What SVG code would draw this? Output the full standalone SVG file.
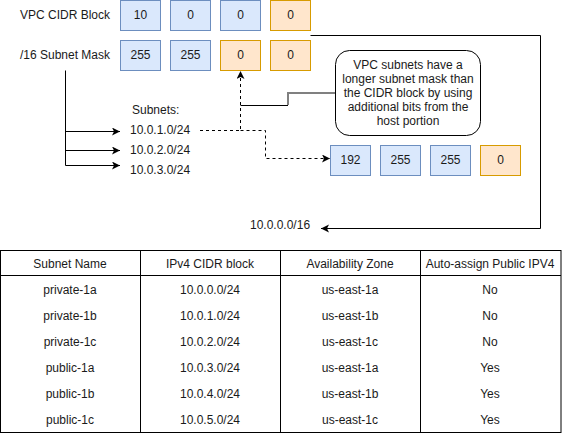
<svg xmlns="http://www.w3.org/2000/svg" width="562" height="436" viewBox="0 0 562 436">
<style>
text{font-family:"Liberation Sans",Arial,sans-serif;font-size:12px;fill:#1a1a1a}
.c{text-anchor:middle}
.r{text-anchor:end}
.blue{fill:#dae8fc;stroke:#6c8ebf;stroke-width:1}
.orange{fill:#ffe6cc;stroke:#d79b00;stroke-width:1}
.ln{fill:none;stroke:#000;stroke-width:1}
.dash{fill:none;stroke:#000;stroke-width:1;stroke-dasharray:3 3}
.gray{fill:none;stroke:#808080;stroke-width:2}
.tb{fill:none;stroke:#000;stroke-width:1}
</style>
<defs>
<marker id="arr" markerUnits="userSpaceOnUse" markerWidth="10" markerHeight="10" refX="8" refY="4" orient="auto">
<path d="M0,0 L8,4 L0,8 L2,4 z" fill="#000"/>
</marker>
</defs>
<rect width="562" height="436" fill="#fff"/>

<g id="label-vpc"><text class="r" x="110" y="19">VPC CIDR Block</text></g>
<g id="label-mask"><text class="r" x="110" y="59">/16 Subnet Mask</text></g>

<g id="cidr-1"><rect class="blue" x="120.5" y="0.5" width="40" height="30"/><text class="c" x="140.5" y="19">10</text></g>
<g id="cidr-2"><rect class="blue" x="170.5" y="0.5" width="40" height="30"/><text class="c" x="190.5" y="19">0</text></g>
<g id="cidr-3"><rect class="blue" x="220.5" y="0.5" width="40" height="30"/><text class="c" x="240.5" y="19">0</text></g>
<g id="cidr-4"><rect class="orange" x="270.5" y="0.5" width="40" height="30"/><text class="c" x="290.5" y="19">0</text></g>

<g id="mask-1"><rect class="blue" x="120.5" y="40.5" width="40" height="30"/><text class="c" x="140.5" y="59">255</text></g>
<g id="mask-2"><rect class="blue" x="170.5" y="40.5" width="40" height="30"/><text class="c" x="190.5" y="59">255</text></g>
<g id="mask-3"><rect class="orange" x="220.5" y="40.5" width="40" height="30"/><text class="c" x="240.5" y="59">0</text></g>
<g id="mask-4"><rect class="orange" x="270.5" y="40.5" width="40" height="30"/><text class="c" x="290.5" y="59">0</text></g>

<g id="subnets">
<text x="132" y="114">Subnets:</text>
<text x="130" y="134">10.0.1.0/24</text>
<text x="130" y="154">10.0.2.0/24</text>
<text x="130" y="174">10.0.3.0/24</text>
</g>

<g id="callout">
<rect x="335.5" y="50.5" width="145" height="85" rx="14" ry="14" fill="#fff" stroke="#000" stroke-width="1"/>
<text class="c" x="408" y="69">VPC subnets have a</text>
<text class="c" x="408" y="83">longer subnet mask than</text>
<text class="c" x="408" y="97">the CIDR block by using</text>
<text class="c" x="408" y="111">additional bits from the</text>
<text class="c" x="408" y="125">host portion</text>
</g>

<g id="sub-1"><rect class="blue" x="330.5" y="145.5" width="40" height="30"/><text class="c" x="350.5" y="164">192</text></g>
<g id="sub-2"><rect class="blue" x="380.5" y="145.5" width="40" height="30"/><text class="c" x="400.5" y="164">255</text></g>
<g id="sub-3"><rect class="blue" x="430.5" y="145.5" width="40" height="30"/><text class="c" x="450.5" y="164">255</text></g>
<g id="sub-4"><rect class="orange" x="480.5" y="145.5" width="40" height="30"/><text class="c" x="500.5" y="164">0</text></g>

<g id="label-net"><text x="250" y="229">10.0.0.0/16</text></g>

<g id="connectors">
<path class="ln" d="M65.5,70.5 V165.5"/>
<path class="ln" d="M65.5,131.5 H120" marker-end="url(#arr)"/>
<path class="ln" d="M65.5,150.5 H120" marker-end="url(#arr)"/>
<path class="ln" d="M65.5,165.5 H120" marker-end="url(#arr)"/>
<path class="dash" d="M200,130.5 H240.5 V71" marker-end="url(#arr)"/>
<path class="dash" d="M240.5,130.5 H265.5 V158.5 H330" marker-end="url(#arr)"/>
<path class="gray" d="M335,93 H288 V105"/>
<path class="ln" d="M240.5,105.5 H288"/>
<path class="ln" d="M310.5,35.5 H540.5 V228.5 H321" marker-end="url(#arr)"/>
</g>

<g id="table">
<rect class="tb" x="0.5" y="250.5" width="560.5" height="182"/>
<path class="tb" d="M0.5,275.5 H561 M140.5,250.5 V432.5 M280.5,250.5 V432.5 M420.5,250.5 V432.5"/>
<text class="c" x="70" y="268">Subnet Name</text>
<text class="c" x="210" y="268">IPv4 CIDR block</text>
<text class="c" x="350" y="268">Availability Zone</text>
<text class="c" x="490" y="268">Auto-assign Public IPV4</text>
<text class="c" x="70" y="294">private-1a</text>
<text class="c" x="210" y="294">10.0.0.0/24</text>
<text class="c" x="350" y="294">us-east-1a</text>
<text class="c" x="490" y="294">No</text>
<text class="c" x="70" y="320">private-1b</text>
<text class="c" x="210" y="320">10.0.1.0/24</text>
<text class="c" x="350" y="320">us-east-1b</text>
<text class="c" x="490" y="320">No</text>
<text class="c" x="70" y="346">private-1c</text>
<text class="c" x="210" y="346">10.0.2.0/24</text>
<text class="c" x="350" y="346">us-east-1c</text>
<text class="c" x="490" y="346">No</text>
<text class="c" x="70" y="372">public-1a</text>
<text class="c" x="210" y="372">10.0.3.0/24</text>
<text class="c" x="350" y="372">us-east-1a</text>
<text class="c" x="490" y="372">Yes</text>
<text class="c" x="70" y="398">public-1b</text>
<text class="c" x="210" y="398">10.0.4.0/24</text>
<text class="c" x="350" y="398">us-east-1b</text>
<text class="c" x="490" y="398">Yes</text>
<text class="c" x="70" y="424">public-1c</text>
<text class="c" x="210" y="424">10.0.5.0/24</text>
<text class="c" x="350" y="424">us-east-1c</text>
<text class="c" x="490" y="424">Yes</text>
</g>
</svg>
